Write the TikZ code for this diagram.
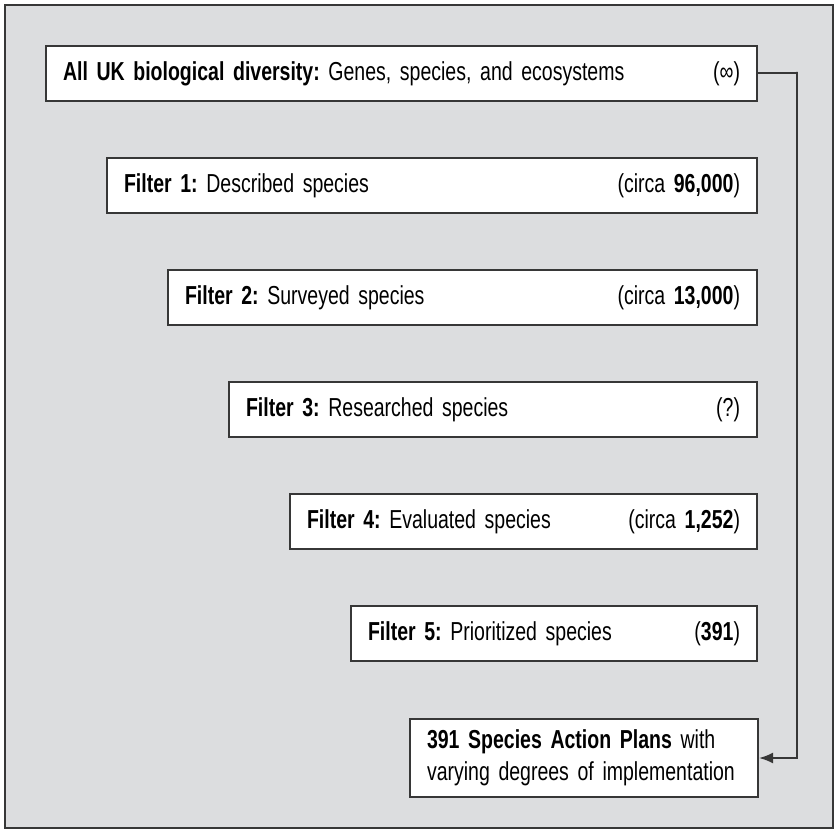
\documentclass[tikz,border=0pt]{standalone}
\usepackage{fontspec}
\setmainfont[FakeStretch=0.75,WordSpace=0.6]{Liberation Sans}
\frenchspacing
\usepackage{tikz}
\usetikzlibrary{arrows.meta}
\definecolor{panelgrey}{RGB}{220,221,223}
\definecolor{edge}{RGB}{55,55,55}
\tikzset{filterbox/.style={draw=edge, fill=white, line width=1pt, anchor=north west,
    minimum height=27.5pt, inner xsep=8.5pt, align=left,
    font=\fontsize{13}{16}\selectfont}}

\begin{document}
\begin{tikzpicture}[x=0.5pt,y=-0.5pt]
        \useasboundingbox (0,0) rectangle (838,833);
        \draw[fill=panelgrey, draw=edge, line width=0.9pt] (5,5) rectangle (833,828);
        \node[filterbox, text width=338.5pt] (div) at (45,45) {\textbf{All UK biological diversity:} Genes, species, and ecosystems\hfill(∞)};
        \node[filterbox, text width=308pt] (f1) at (106,157) {\textbf{Filter 1:} Described species\hfill(circa \textbf{96,000})};
        \node[filterbox, text width=277.5pt] (f2) at (167,269) {\textbf{Filter 2:} Surveyed species\hfill(circa \textbf{13,000})};
        \node[filterbox, text width=247pt] (f3) at (228,381) {\textbf{Filter 3:} Researched species\hfill(?)};
        \node[filterbox, text width=216.5pt] (f4) at (289,493) {\textbf{Filter 4:} Evaluated species\hfill(circa \textbf{1,252})};
        \node[filterbox, text width=186pt] (f5) at (350,605) {\textbf{Filter 5:} Prioritized species\hfill(\textbf{391})};
        \node[filterbox, text width=157pt, minimum height=39pt] (plans) at (409,718)
            {\mbox{\textbf{391 Species Action Plans} with}\\\mbox{varying degrees of implementation}};
        \coordinate (bend) at (797,72);
        \draw[-{Latex[length=7pt,width=5.5pt]}, draw=edge, line width=1pt] (div.east) -| (bend) |- (plans.east);
    \end{tikzpicture}
\end{document}
